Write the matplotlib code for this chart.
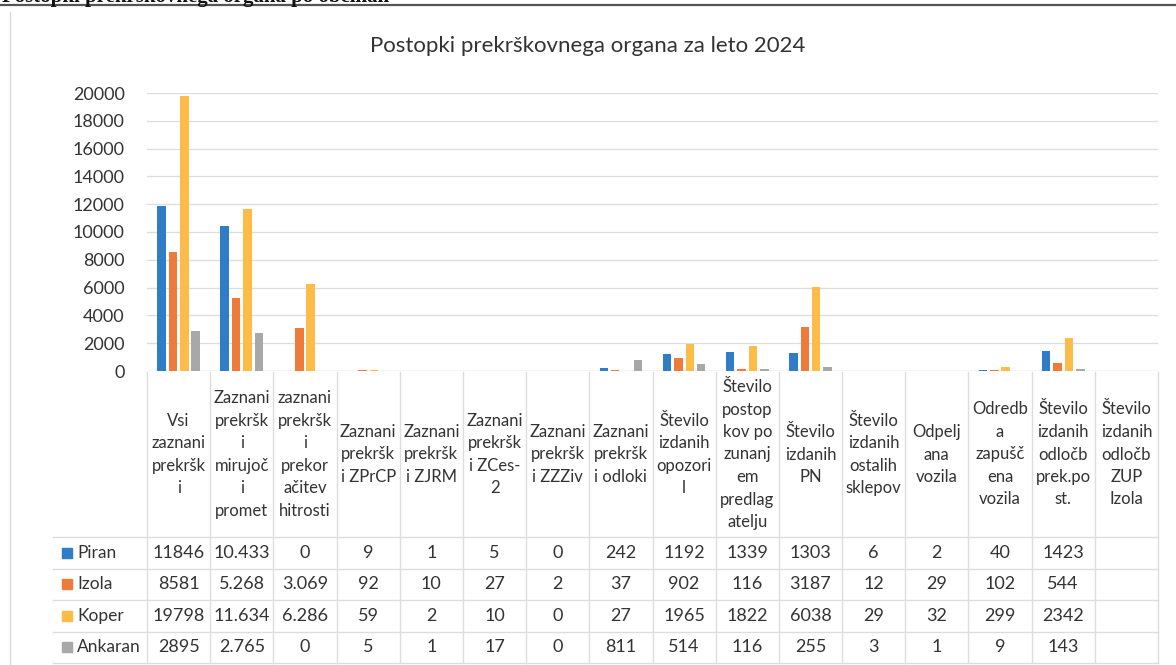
import matplotlib
matplotlib.use("Agg")
import matplotlib.pyplot as plt
import numpy as np

# podatki
title = "Postopki prekrškovnega organa za leto 2024"
page_head = "Postopki prekrškovnega organa po občinah"
categories = [
    "Vsi\nzaznani\nprekršk\ni",
    "Zaznani\nprekršk\ni\nmirujoč\ni\npromet",
    "zaznani\nprekršk\ni\nprekor\načitev\nhitrosti",
    "Zaznani\nprekršk\ni ZPrCP",
    "Zaznani\nprekršk\ni ZJRM",
    "Zaznani\nprekršk\ni ZCes-\n2",
    "Zaznani\nprekršk\ni ZZZiv",
    "Zaznani\nprekršk\ni odloki",
    "Število\nizdanih\nopozori\nl",
    "Število\npostop\nkov po\nzunanj\nem\npredlag\natelju",
    "Število\nizdanih\nPN",
    "Število\nizdanih\nostalih\nsklepov",
    "Odpelj\nana\nvozila",
    "Odredb\na\nzapušč\nena\nvozila",
    "Število\nizdanih\nodločb\nprek.po\nst.",
    "Število\nizdanih\nodločb\nZUP\nIzola",
]
towns = ["Piran", "Izola", "Koper", "Ankaran"]
piran = [11846, 10433, 0, 9, 1, 5, 0, 242, 1192, 1339, 1303, 6, 2, 40, 1423, None]
izola = [8581, 5268, 3069, 92, 10, 27, 2, 37, 902, 116, 3187, 12, 29, 102, 544, None]
koper = [19798, 11634, 6286, 59, 2, 10, 0, 27, 1965, 1822, 6038, 29, 32, 299, 2342, None]
ankaran = [2895, 2765, 0, 5, 1, 17, 0, 811, 514, 116, 255, 3, 1, 9, 143, None]
series = [piran, izola, koper, ankaran]
dot_cols = [1, 2]  # v tabeli zapisano s piko za tisočice
yticks = list(range(0, 20001, 2000))

colors = ["#2F7DC6", "#EE7B3A", "#FDBB48", "#A8A8A8"]
txt = "#333333"
grid = "#DDDDDD"
plt.rcParams['font.family'] = ['Lato', 'DejaVu Sans']

W, H = 1176, 665
fig = plt.figure(figsize=(W / 100, H / 100), dpi=100)

# okvir v pikslih
ov = fig.add_axes([0, 0, 1, 1])
ov.set_xlim(0, W)
ov.set_ylim(H, 0)
ov.axis("off")

L, R, T, B = 147, 1158, 93, 371
ax = fig.add_axes([L / W, 1 - B / H, (R - L) / W, (B - T) / H])
n = len(categories)
x = np.arange(n)
for j, vals in enumerate(series):
    h = [np.nan if v is None else v for v in vals]
    ax.bar(x + (j - 1.5) * 0.18, h, 0.135, color=colors[j], zorder=3)

ax.set_xlim(-0.5, n - 0.5)
ax.set_ylim(0, 20000)
ax.set_yticks(yticks)
ax.set_yticklabels([str(t) for t in yticks])
ax.set_xticks([])
ax.tick_params(axis="y", length=0, pad=16, labelsize=13, labelcolor=txt)
ax.grid(axis="y", color=grid, lw=0.9, zorder=0)
for s in ax.spines.values():
    s.set_visible(False)
ax.axhline(0, color=grid, lw=0.9, zorder=2)

ov.text(W / 2, 46, title, ha="center", va="center", fontsize=16, color=txt)

# glava strani (odrezana)
ov.text(2, 2, page_head, ha="left", va="baseline", fontsize=15,
        family="Liberation Serif", weight="bold", color="#111111")
ov.plot([0, W], [5, 5], color="#555555", lw=1.6)
ov.plot([10, 10], [12, H], color="#D9D9D9", lw=1)

# tabela podatkov
cw = (R - L) / n
head_top, head_bot = 372, 537
row_h = 31.5
tab_left = 53
tab_bot = head_bot + row_h * len(towns)
for i in range(n + 1):
    xx = L + i * cw
    ov.plot([xx, xx], [head_top, tab_bot], color=grid, lw=1)
for k in range(len(towns) + 1):
    yy = head_bot + k * row_h
    ov.plot([tab_left, R], [yy, yy], color=grid, lw=1)

for i, lab in enumerate(categories):
    ov.text(L + (i + 0.5) * cw, (head_top + head_bot) / 2, lab,
            ha="center", va="center", fontsize=12, color=txt, linespacing=1.5)

for k, (name, vals) in enumerate(zip(towns, series)):
    yc = head_bot + (k + 0.5) * row_h
    ov.add_patch(plt.Rectangle((62, yc - 5), 10, 10, color=colors[k]))
    ov.text(77, yc, name, ha="left", va="center", fontsize=12.5, color=txt)
    for i, v in enumerate(vals):
        if v is None:
            continue
        s = f"{v:,}".replace(",", ".") if i in dot_cols else str(v)
        ov.text(L + (i + 0.5) * cw, yc, s, ha="center", va="center",
                fontsize=13, color=txt)

fig.savefig("out.png", dpi=100)
